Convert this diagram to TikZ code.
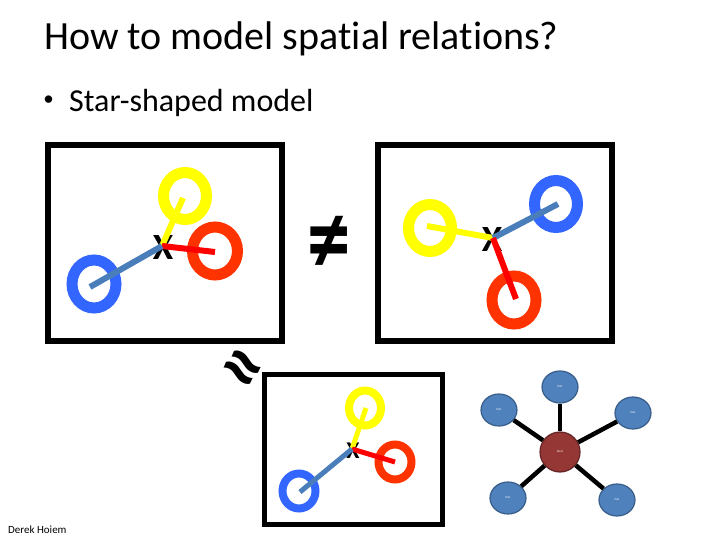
\documentclass[tikz,border=0pt]{standalone}
\usepackage{fontspec}
\usetikzlibrary{shapes.geometric}
\setmainfont{Carlito}[Ligatures=NoCommon]
\definecolor{ringyellow}{HTML}{FFFF00}
\definecolor{ringred}{HTML}{FF3300}
\definecolor{linered}{HTML}{FF0000}
\definecolor{ringblue}{HTML}{3366FF}
\definecolor{lineblue}{HTML}{4A7EBB}
\definecolor{partfill}{HTML}{4F81BD}
\definecolor{partdraw}{HTML}{385D8A}
\definecolor{rootfill}{HTML}{953735}
\definecolor{rootdraw}{HTML}{632523}
\begin{document}
\begin{tikzpicture}[x=1pt,y=-1pt,
  frame/.style={draw=black,line width=6pt},
  smallframe/.style={draw=black,line width=5pt},
  ring/.style={line width=11pt},
  smallring/.style={line width=8pt},
  spoke/.style={line width=6pt},
  smallspoke/.style={line width=5pt},
  xmark/.style={font=\fontsize{37}{37}\selectfont\bfseries,inner sep=0pt},
  smallxmark/.style={font=\fontsize{24}{24}\selectfont\bfseries,inner sep=0pt},
  partnode/.style={ellipse,draw=partdraw,fill=partfill,line width=1.2pt,minimum width=36pt,minimum height=32pt,inner sep=0pt,text=white,font=\fontsize{3}{3}\selectfont},
  rootnode/.style={circle,draw=rootdraw,fill=rootfill,line width=1.2pt,minimum size=40pt,inner sep=0pt,text=white,font=\fontsize{3}{3}\selectfont},
  edge/.style={draw=black,line width=4.5pt}]
\useasboundingbox (0,0) rectangle (720,540);

% texts
\node[anchor=base west,inner sep=0pt,font=\fontsize{40}{48}\selectfont] (title) at (44,50) {How to model spatial relations?};
\node[inner sep=0pt,font=\fontsize{21}{21}\selectfont] (dot) at (48.5,101) {•};
\node[anchor=base west,inner sep=0pt,font=\fontsize{32}{38}\selectfont] (bullet) at (69,112) {Star-shaped model};
\node[anchor=base west,inner sep=0pt,font=\fontsize{11}{13}\selectfont] (author) at (8,533) {Derek Hoiem};

% box 1
\draw[frame] (48,145) rectangle (282,341);
\draw[ring,ringyellow] (185,196) ellipse [x radius=21.5, y radius=23.5];
\draw[ring,ringred] (215,251) ellipse [x radius=22.5, y radius=24];
\draw[ring,ringblue] (94,284) ellipse [x radius=22, y radius=24];
\node[xmark] (xa) at (163,248) {X};
\coordinate (ja) at (162,246);
\coordinate (ya) at (183,198);
\coordinate (ra) at (215,252);
\coordinate (ba) at (90,287);
\draw[spoke,ringyellow] (ja) -- (ya);
\draw[spoke,linered] (ja) -- (ra);
\draw[spoke,lineblue] (ja) -- (ba);

% box 2
\draw[frame] (378,145) rectangle (612,341);
\draw[ring,ringyellow] (430,228) ellipse [x radius=21.5, y radius=23.5];
\draw[ring,ringblue] (556,204) ellipse [x radius=21.5, y radius=23.5];
\draw[ring,ringred] (514,300) ellipse [x radius=22, y radius=24];
\node[xmark] (xb) at (492,240) {X};
\coordinate (jb) at (493,238);
\coordinate (yb) at (427,226);
\coordinate (bb) at (558,204);
\coordinate (rb) at (516,299);
\draw[spoke,ringyellow] (jb) -- (yb);
\draw[spoke,lineblue] (jb) -- (bb);
\draw[spoke,linered] (jb) -- (rb);

% box 3
\draw[smallframe] (264.5,374.5) rectangle (442.5,524.5);
\draw[smallring,ringyellow] (365,408) ellipse [x radius=16, y radius=17.5];
\draw[smallring,ringred] (395,462) ellipse [x radius=16.5, y radius=17.5];
\draw[smallring,ringblue] (299,491) ellipse [x radius=16.5, y radius=17.5];
\node[smallxmark] (xc) at (353,451) {X};
\coordinate (jc) at (352,449);
\coordinate (yc) at (366,408);
\coordinate (rc) at (395,462);
\coordinate (bc) at (300,492);
\draw[smallspoke,ringyellow] (jc) -- (yc);
\draw[smallspoke,linered] (jc) -- (rc);
\draw[smallspoke,lineblue] (jc) -- (bc);

% relation symbols
\node[inner sep=0pt,yscale=1.2,font=\fontsize{87}{87}\selectfont\bfseries] (neq) at (329,245) {≠};
\node[inner sep=0pt,rotate=-36,font=\fontsize{80}{80}\selectfont\bfseries] (approx) at (239,373) {≈};

% star graph
\node[rootnode] (root) at (560,452) {Root};
\node[partnode] (p1) at (560,387) {Part};
\node[partnode] (p2) at (499,410) {Part};
\node[partnode] (p3) at (633,413) {Part};
\node[partnode] (p4) at (508,498) {Part};
\node[partnode] (p5) at (617,500) {Part};
\foreach \p in {p1,p2,p3,p4,p5} \draw[edge] (root) -- (\p);
\end{tikzpicture}
\end{document}
